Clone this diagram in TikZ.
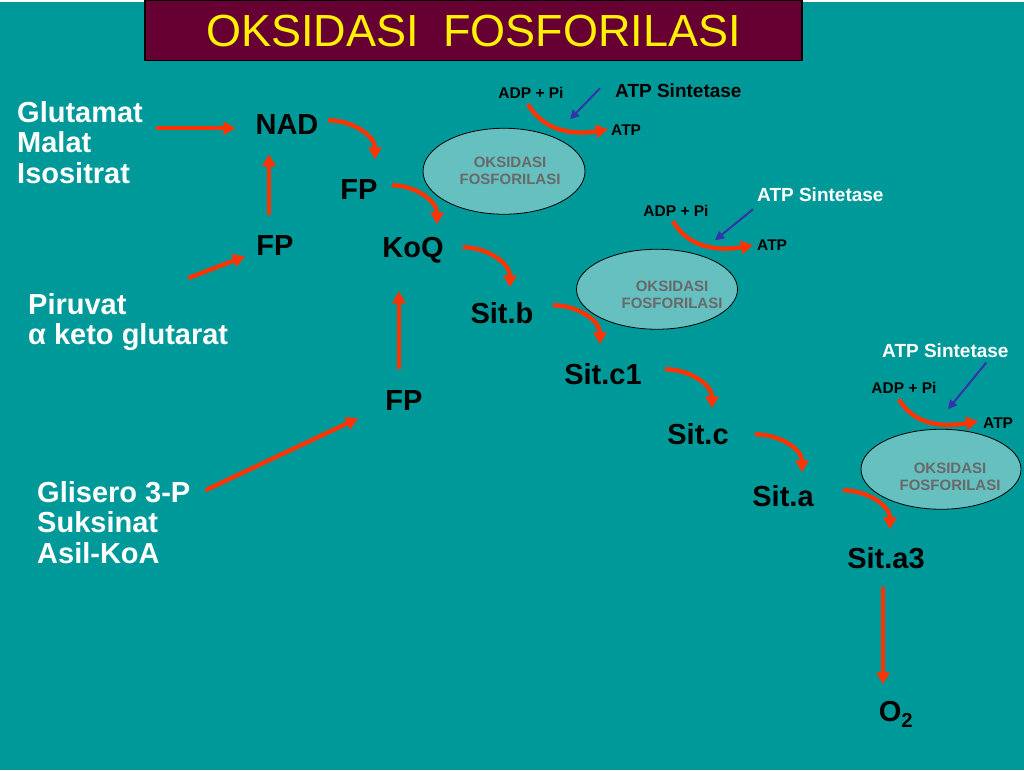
\documentclass[tikz,border=0pt]{standalone}
\usepackage{fontspec}
\setmainfont{Liberation Sans}
\usetikzlibrary{arrows.meta,positioning,shapes,calc}
\definecolor{slidebg}{RGB}{0,153,153}
\definecolor{titlebg}{RGB}{102,0,51}
\definecolor{flowred}{RGB}{255,51,0}
\definecolor{enzblue}{RGB}{51,51,170}
\definecolor{oxfill}{RGB}{102,192,192}
\definecolor{oxtext}{RGB}{105,105,105}
\begin{document}
\begin{tikzpicture}[x=1pt,y=1pt,
  lbl/.style={inner sep=0pt,font=\fontsize{29}{30.5}\selectfont\bfseries},
  src/.style={lbl,white,align=left,anchor=west},
  small/.style={inner sep=0pt,font=\fontsize{15.5}{17}\selectfont\bfseries},
  enz/.style={inner sep=0pt,anchor=west,font=\fontsize{19}{21}\selectfont\bfseries},
  oxph/.style={ellipse,draw=black,line width=0.8pt,fill=oxfill,inner sep=0pt},
  oxlbl/.style={inner sep=0pt,align=center,text=oxtext,font=\fontsize{15}{17}\selectfont\bfseries},
  flow/.style={draw=flowred,line width=4.3pt,-{Triangle[length=12pt,width=13pt]}},
  syn/.style={draw=enzblue,line width=2pt,-{Triangle[length=9pt,width=9pt]}}]
\fill[slidebg] (0,0) rectangle (1024,-768);
\node[draw=black,line width=1.5pt,fill=titlebg,minimum width=657pt,minimum height=60pt,
  text=yellow,font=\fontsize{45}{50}\selectfont] (title) at (473.5,-28.5)
  {OKSIDASI\hspace{0.55em}FOSFORILASI};

\node[oxph,minimum width=162pt,minimum height=86pt] (ox1) at (504,-169) {};
\node[oxph,minimum width=161pt,minimum height=80pt] (ox2) at (657,-287) {};
\node[oxph,minimum width=160pt,minimum height=80pt] (ox3) at (941,-467) {};
\node[oxlbl] at ([xshift=6pt]ox1.center) {OKSIDASI\\FOSFORILASI};
\node[oxlbl] at ([shift={(15,-6)}]ox2.center) {OKSIDASI\\FOSFORILASI};
\node[oxlbl] at ([shift={(9,-8)}]ox3.center) {OKSIDASI\\FOSFORILASI};

\node[src] (glut) at (17,-140) {Glutamat\\Malat\\Isositrat};
\node[src] (piru) at (28,-320) {Piruvat\\α keto glutarat};
\node[src] (glis) at (37,-520) {Glisero 3-P\\Suksinat\\Asil-KoA};

\node[lbl] (nad) at (287,-122) {NAD};
\node[lbl] (fpa) at (359,-187) {FP};
\node[lbl] (fpb) at (275,-243) {FP};
\node[lbl] (fpc) at (404,-398) {FP};
\node[lbl] (koq) at (413,-248) {KoQ};
\node[lbl] (sitb) at (502,-311) {Sit.b};
\node[lbl] (sitc1) at (603,-372) {Sit.c1};
\node[lbl] (sitc) at (698,-432) {Sit.c};
\node[lbl] (sita) at (783,-494) {Sit.a};
\node[lbl] (sita3) at (886,-556) {Sit.a3};
\node[lbl] (o2) at (896,-712) {O\textsubscript{2}};

\node[small] (adp1) at (531,-91) {ADP + Pi};
\node[small,anchor=west] (atp1) at (611,-128) {ATP};
\node[enz] (sint1) at (615,-88) {ATP Sintetase};
\coordinate (tgt1) at (570,-117);
\node[small] (adp2) at (676,-209) {ADP + Pi};
\node[small,anchor=west] (atp2) at (757,-243) {ATP};
\node[enz,white] (sint2) at (757,-192) {ATP Sintetase};
\coordinate (tgt2) at (715,-238);
\node[small] (adp3) at (904,-386) {ADP + Pi};
\node[small,anchor=west] (atp3) at (983,-421) {ATP};
\node[enz,white] (sint3) at (882,-348) {ATP Sintetase};
\coordinate (tgt3) at (948,-407);

\draw[flow] ([shift={(13,14)}]glut.east) -- ([shift={(-20,-4)}]nad.west);
\draw[flow] ([shift={(-6,30)}]fpb.center) -- ([shift={(-18,-30)}]nad.center);
\draw[flow] ([shift={(60,15)}]piru.north) -- ([shift={(-30,-11)}]fpb.center);
\draw[flow] ([shift={(-5,31)}]fpc.center) -- ([shift={(-14,-41)}]koq.center);
\draw[flow] ([shift={(15,32)}]glis.east) -- ([shift={(-46,-18)}]fpc.center);

\draw[flow] ([shift={(41,4)}]nad.center) to[out=0,in=90] ([shift={(16,30)}]fpa.center);
\draw[flow] ([shift={(33,4)}]fpa.center) to[out=0,in=90] ([shift={(24,26)}]koq.center);
\draw[flow] ([shift={(50,3)}]koq.center) to[out=0,in=90] ([shift={(8,26)}]sitb.center);
\draw[flow] ([shift={(51,8)}]sitb.center) to[out=0,in=90] ([shift={(-3,30)}]sitc1.center);
\draw[flow] ([shift={(62,5)}]sitc1.center) to[out=0,in=90] ([shift={(14,26)}]sitc.center);
\draw[flow] ([shift={(57,0)}]sitc.center) to[out=0,in=90] ([shift={(19,24)}]sita.center);
\draw[flow] ([shift={(60,6)}]sita.center) to[out=0,in=90] ([shift={(4,29)}]sita3.center);
\draw[flow] ([shift={(-3,-29)}]sita3.center) -- ([shift={(-13,30)}]o2.center);

\draw[flow] ([shift={(-3,-11)}]adp1.center) to[out=-60,in=190] ([shift={(-3,1)}]atp1.west);
\draw[flow] ([shift={(-3,-10)}]adp2.center) to[out=-60,in=190] ([shift={(-4,0)}]atp2.west);
\draw[flow] ([shift={(-5,-11)}]adp3.center) to[out=-60,in=190] ([shift={(-5,2)}]atp3.west);
\draw[syn] ([shift={(-15,2)}]sint1.west) -- (tgt1);
\draw[syn] ([shift={(-4,-15)}]sint2.west) -- (tgt2);
\draw[syn] ([shift={(41,-5)}]sint3.south) -- (tgt3);
\end{tikzpicture}
\end{document}
